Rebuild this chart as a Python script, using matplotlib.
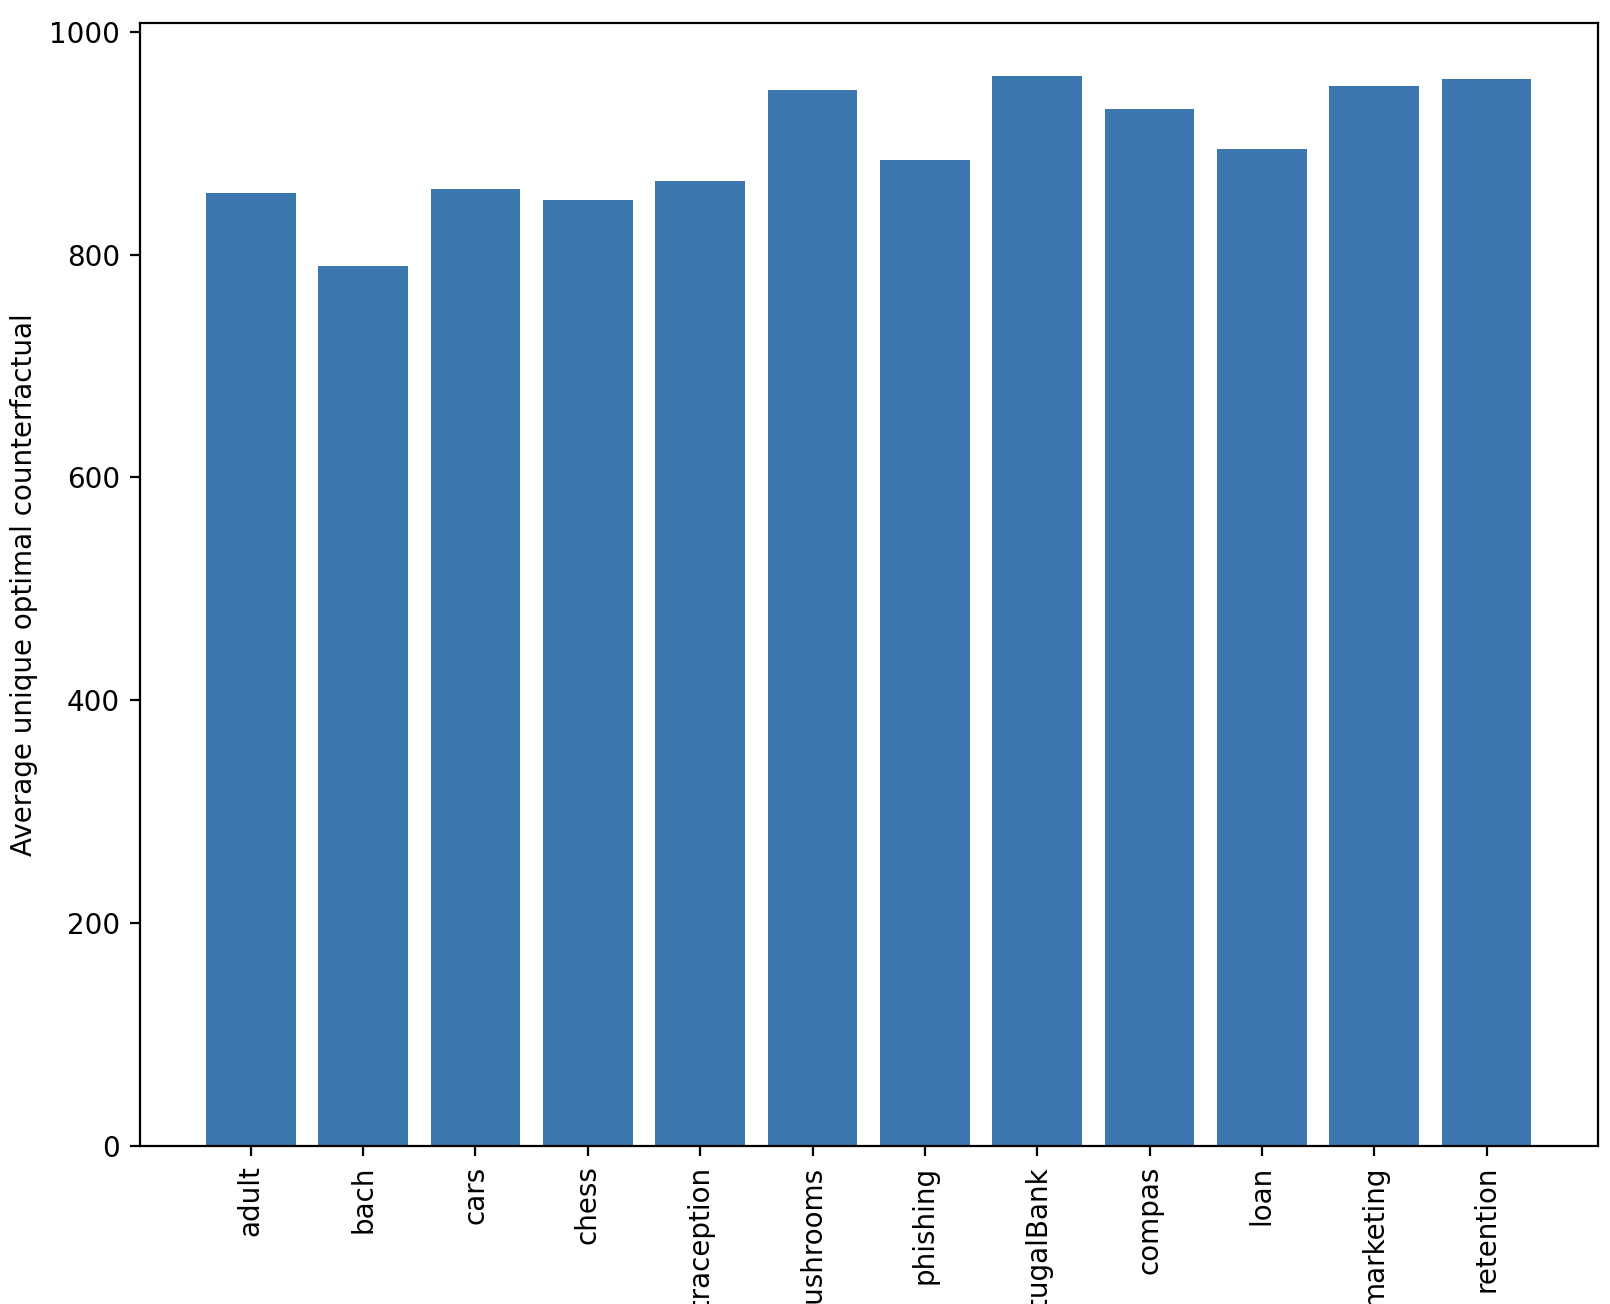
import matplotlib
matplotlib.use("Agg")
import matplotlib.pyplot as plt

datasets = ['adult', 'bach', 'cars', 'chess', 'contraception', 'mushrooms',
            'phishing', 'portugalBank', 'compas', 'loan', 'marketing', 'retention']
avg_unique = [855, 790, 859, 849, 866, 948, 885, 960, 931, 895, 951, 958]

fig = plt.figure(figsize=(8.05, 6.52), dpi=200)
ax = fig.add_axes([0.0867, 0.1212, 0.9057, 0.8612])
ax.bar(datasets, avg_unique, color='#3b76af')
ax.set_ylabel('Average unique optimal counterfactual')
ax.tick_params(axis='x', labelrotation=90)

fig.savefig('out.png', dpi=200)
